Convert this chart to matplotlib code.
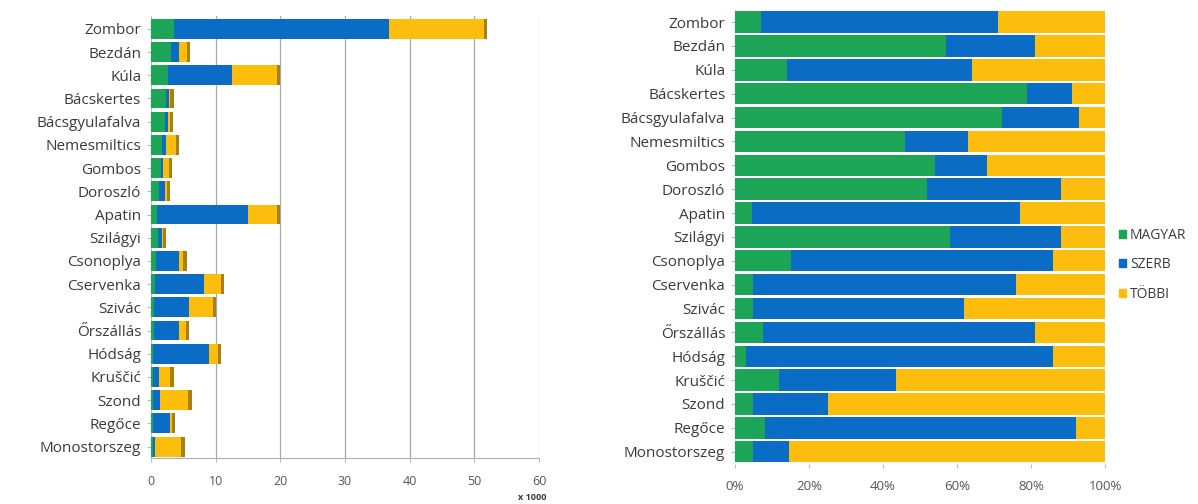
import numpy as np
import matplotlib.pyplot as plt
from matplotlib.patches import Patch

plt.rcParams['font.family'] = ['Open Sans', 'DejaVu Sans']

towns = ["Zombor", "Bezdán", "Kúla", "Bácskertes", "Bácsgyulafalva", "Nemesmiltics",
         "Gombos", "Doroszló", "Apatin", "Szilágyi", "Csonoplya", "Cservenka",
         "Szivác", "Őrszállás", "Hódság", "Kruščić", "Szond", "Regőce", "Monostorszeg"]

# population, thousands
magyar = [3.6, 3.1, 2.7, 2.4, 2.1, 1.75, 1.5, 1.3, 0.9, 1.1,
          0.75, 0.55, 0.5, 0.4, 0.3, 0.35, 0.3, 0.25, 0.25]
szerb = [33.2, 1.3, 9.8, 0.35, 0.6, 0.65, 0.4, 0.9, 14.1, 0.57,
         3.55, 7.7, 5.45, 3.95, 8.65, 0.95, 1.15, 2.7, 0.45]
tobbi = [14.7, 1.1, 7.0, 0.25, 0.2, 1.4, 0.9, 0.3, 4.5, 0.23,
         0.7, 2.55, 3.65, 1.05, 1.45, 1.7, 4.35, 0.25, 4.0]

# shares, percent
magyar_pct = [7, 57, 14, 79, 72, 46, 54, 52, 4.5, 58, 15, 5, 5, 7.5, 3, 12, 5, 8, 5]
szerb_pct = [64, 24, 50, 12, 21, 17, 14, 36, 72.5, 30, 71, 71, 57, 73.5, 83, 31.5, 20, 84, 9.5]
tobbi_pct = [29, 19, 36, 9, 7, 37, 32, 12, 23, 12, 14, 24, 38, 19, 14, 56.5, 75, 8, 85.5]

legend_labels = ["MAGYAR", "SZERB", "TÖBBI"]
GREEN, BLUE, YELLOW, SIDE = "#1ca457", "#0a6cc4", "#fcbd0c", "#a97f10"
TXT = "#3a3a3a"

fig = plt.figure(figsize=(11.98, 5.04), dpi=100)
ax1 = fig.add_axes([0.126, 0.091, 0.324, 0.877])
ax2 = fig.add_axes([0.6135, 0.08, 0.309, 0.90])

y = np.arange(len(towns))


def stacked(ax, a, b, c, h, side_w, tick_size):
    a, b, c = map(np.array, (a, b, c))
    ax.barh(y, a, height=h, color=GREEN, zorder=3)
    ax.barh(y, b, left=a, height=h, color=BLUE, zorder=3)
    ax.barh(y, c, left=a + b, height=h, color=YELLOW, zorder=3)
    # darker end face for the 3d look
    ax.barh(y, side_w, left=a + b + c, height=h, color=SIDE, zorder=3)
    ax.set_yticks(y)
    ax.set_yticklabels(towns, fontsize=11, color=TXT)
    ax.invert_yaxis()
    ax.tick_params(axis='y', length=3, color="#bbbbbb", pad=4)
    ax.tick_params(axis='x', length=3, color="#bbbbbb", labelsize=tick_size,
                   labelcolor="#555555", pad=9)


stacked(ax1, magyar, szerb, tobbi, 0.86, 0.5, 9)
ax1.set_xlim(0, 60)
ax1.set_ylim(len(towns) - 0.5, -0.55)
ax1.set_xticks(range(0, 61, 10))
ax1.grid(axis='x', color="#a8a8a8", lw=0.9, zorder=0)
for s in ["top", "right"]:
    ax1.spines[s].set_visible(False)
ax1.spines["left"].set_color("#c0c0c0")
ax1.spines["bottom"].set_color("#b0b0b0")
fig.text(0.432, 0.008, "x 1000", fontsize=6.5, fontweight="bold", color=TXT)

stacked(ax2, magyar_pct, szerb_pct, tobbi_pct, 0.9, 0.6, 9.5)
ax2.set_xlim(0, 100)
ax2.set_ylim(len(towns) - 0.5, -0.5)
ax2.set_xticks(range(0, 101, 20))
ax2.set_xticklabels([f"{v}%" for v in range(0, 101, 20)])
for s in ["top", "right", "bottom", "left"]:
    ax2.spines[s].set_visible(False)

handles = [Patch(color=c) for c in (GREEN, BLUE, YELLOW)]
fig.legend(handles, legend_labels, loc="center left", bbox_to_anchor=(0.934, 0.475),
           frameon=False, fontsize=10, handlelength=0.5, handleheight=0.5,
           handletextpad=0.3, labelspacing=1.05, labelcolor=TXT,
           borderpad=0, borderaxespad=0)

fig.savefig("out.png", dpi=100)
